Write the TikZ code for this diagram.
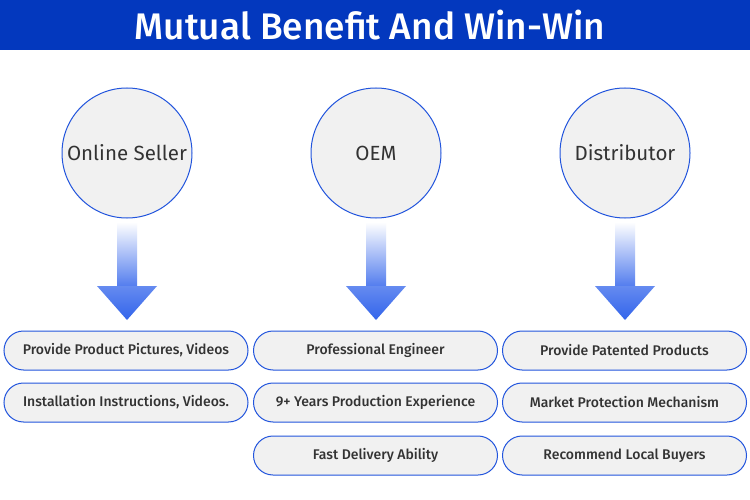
\documentclass[tikz,border=0pt]{standalone}
\usepackage{fontspec}
\setmainfont{Fira Sans}[BoldFont={Fira Sans Medium}]
\usetikzlibrary{shapes.misc}
\definecolor{hdr}{RGB}{3,56,190}
\definecolor{ring}{RGB}{34,85,221}
\definecolor{cfill}{RGB}{241,241,241}
\definecolor{txt}{RGB}{51,51,51}
\definecolor{arr}{RGB}{50,100,235}
\begin{document}
\begin{tikzpicture}[x=1pt,y=-1pt,
  circ/.style={circle,draw=ring,line width=1pt,fill=cfill,minimum size=130pt,inner sep=0pt,text=txt,font=\fontsize{20.5}{24}\selectfont},
  pill/.style={rounded rectangle,draw=ring,line width=1pt,fill=cfill,minimum width=244pt,minimum height=39pt,inner sep=0pt,text=txt,font=\bfseries\fontsize{14}{16}\selectfont}]
\useasboundingbox (0,0) rectangle (750,500);
\fill[white] (0,0) rectangle (750,500);
\fill[hdr] (0,0) rectangle (750,50);
\node[text=white,font=\bfseries\fontsize{37}{40}\selectfont] (title) at (370,25) {Mutual Benefit And Win-Win};
\foreach \cx/\name/\lab in {127/c1/Online Seller,376/c2/OEM,625/c3/Distributor}{
  \node[circ] (\name) at (\cx,153) {\lab};
  \shade[top color=white,bottom color=arr!85] (\cx-10,222) rectangle (\cx+10,287);
  \shade[top color=arr!75,bottom color=arr] (\cx-30,286) -- (\cx+30,286) -- (\cx,320) -- cycle;
}
\node[pill] (p11) at (126,350.5) {Provide Product Pictures, Videos};
\node[pill] (p12) at (126,402.5) {Installation Instructions, Videos.};
\node[pill] (p21) at (375.5,350.5) {Professional Engineer};
\node[pill] (p22) at (375.5,402.5) {9+ Years Production Experience};
\node[pill] (p23) at (375.5,455.5) {Fast Delivery Ability};
\node[pill] (p31) at (624.5,350.5) {Provide Patented Products};
\node[pill] (p32) at (624.5,402.5) {Market Protection Mechanism};
\node[pill] (p33) at (624.5,455.5) {Recommend Local Buyers};
\end{tikzpicture}
\end{document}
